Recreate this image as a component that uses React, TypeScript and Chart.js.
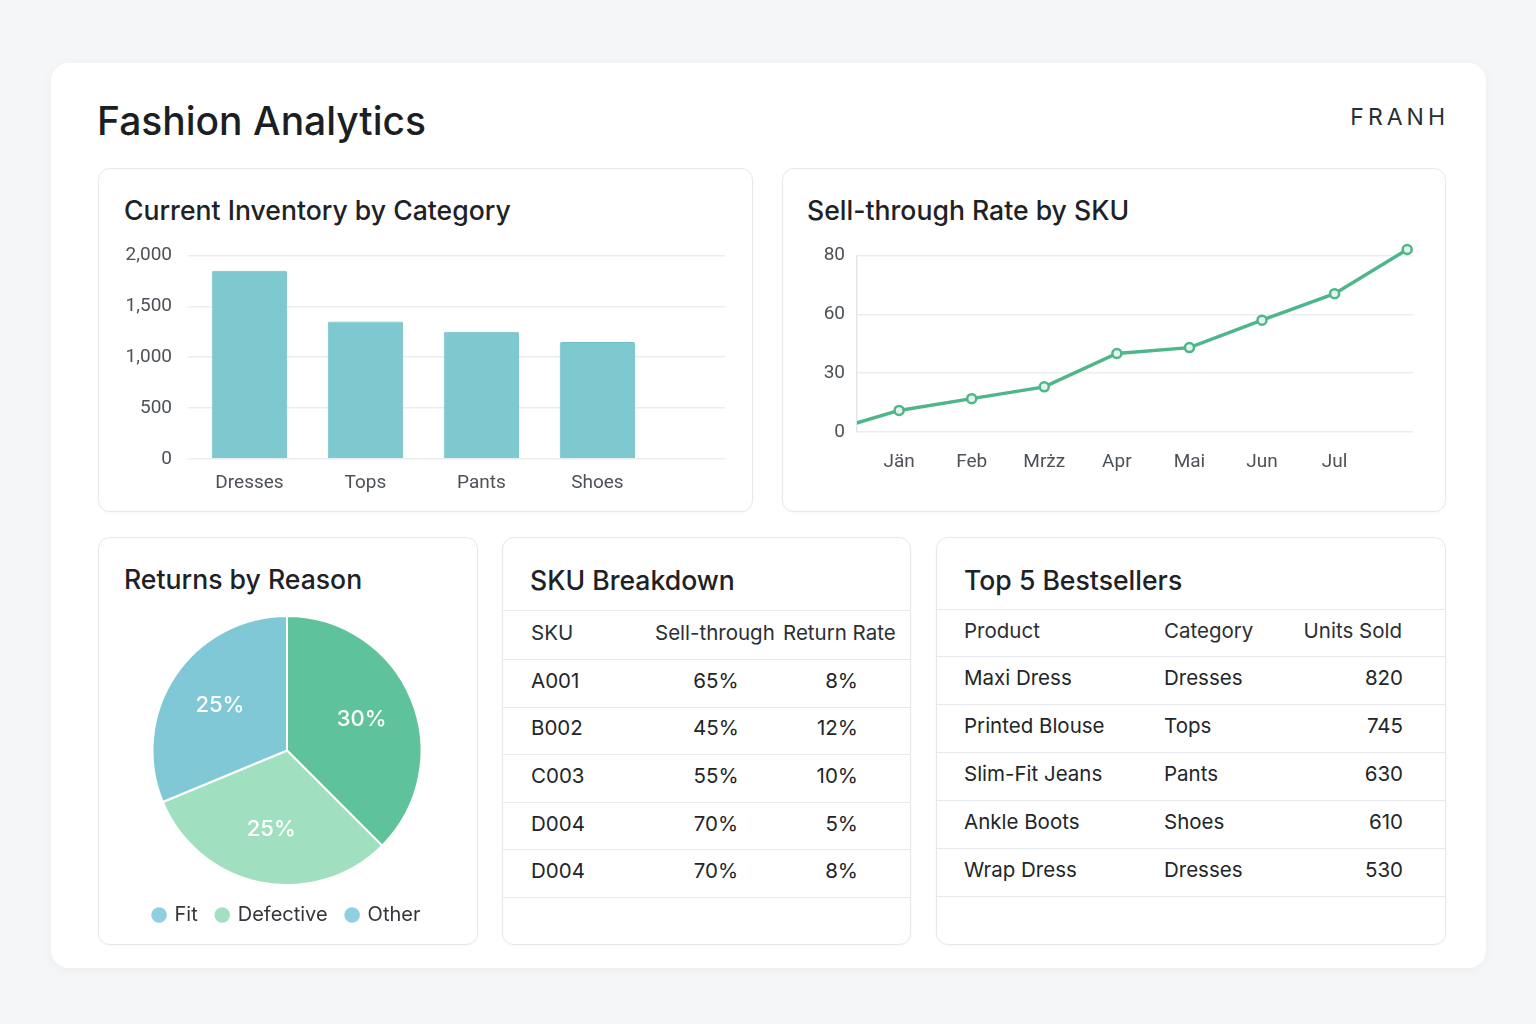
import React, { useEffect, useRef } from 'react';
import { Chart, registerables, LinearScale } from 'chart.js';

// ---- data ----
const INVENTORY_CATEGORIES = ['Dresses', 'Tops', 'Pants', 'Shoes'];
const INVENTORY_UNITS = [1850, 1350, 1250, 1150];
const INVENTORY_TICKS = [0, 500, 1000, 1500, 2000];

const MONTHS = ['Jän', 'Feb', 'Mrżz', 'Apr', 'Mai', 'Jun', 'Jul'];
// lead-in point before Jän, Jän..Jul, then one trailing point
const SELL_THROUGH = [0, 11, 17, 23, 40, 43, 57, 67, 82];
const RATE_TICKS = [0, 30, 60, 80];

const RETURN_REASONS = ['Other', 'Defective', 'Fit'];
const RETURN_SHARES = [30, 25, 25];
const LEGEND_ORDER = ['Fit', 'Defective', 'Other'];

const SKU_IDS = ['A001', 'B002', 'C003', 'D004', 'D004'];
const SKU_SELL_THROUGH = [65, 45, 55, 70, 70];
const SKU_RETURN_RATE = [8, 12, 10, 5, 8];

const BEST_PRODUCTS = ['Maxi Dress', 'Printed Blouse', 'Slim-Fit Jeans', 'Ankle Boots', 'Wrap Dress'];
const BEST_CATEGORIES = ['Dresses', 'Tops', 'Pants', 'Shoes', 'Dresses'];
const BEST_UNITS = [820, 745, 630, 610, 530];

// ---- a linear scale whose fixed ticks sit at equal spacing ----
class SteppedScale extends LinearScale {
  static id = 'stepped';
  static defaults = {};

  buildTicks() {
    const stops = (this.options as any).stops as number[];
    this.min = stops[0];
    this.max = stops[stops.length - 1];
    return stops.map((v) => ({ value: v }));
  }

  valueToSlot(value: number) {
    const s = (this.options as any).stops as number[];
    const n = s.length - 1;
    if (value <= s[0]) return (value - s[0]) / (s[1] - s[0]);
    if (value >= s[n]) return n + (value - s[n]) / (s[n] - s[n - 1]);
    for (let i = 0; i < n; i++) {
      if (value <= s[i + 1]) return i + (value - s[i]) / (s[i + 1] - s[i]);
    }
    return n;
  }

  getPixelForValue(value: number) {
    const s = (this.options as any).stops as number[];
    return this.getPixelForDecimal(this.valueToSlot(value) / (s.length - 1));
  }

  getValueForPixel(pixel: number) {
    const s = (this.options as any).stops as number[];
    const n = s.length - 1;
    const slot = this.getDecimalForPixel(pixel) * n;
    const i = Math.max(0, Math.min(n - 1, Math.floor(slot)));
    return s[i] + (slot - i) * (s[i + 1] - s[i]);
  }
}

Chart.register(...registerables, SteppedScale as any);

const TICK_FONT = { family: 'Roboto', size: 19 };
const TICK_COLOR = '#4d5258';
const GRID_COLOR = '#ebedef';
const TEXT_FONT = 'Inter, "Noto Sans", sans-serif';

function InventoryChart() {
  const ref = useRef<HTMLCanvasElement>(null);
  useEffect(() => {
    const chart = new Chart(ref.current!, {
      type: 'bar',
      data: {
        datasets: [
          {
            data: INVENTORY_UNITS.map((v, i) => ({ x: i, y: v })),
            backgroundColor: '#7ec8d0',
            borderColor: '#70bfc8',
            borderWidth: 1,
            borderRadius: 2,
            borderSkipped: 'bottom',
            categoryPercentage: 1,
            barPercentage: 0.65,
          },
        ],
      },
      options: {
        animation: false,
        responsive: true,
        maintainAspectRatio: false,
        layout: { padding: 0 },
        plugins: { legend: { display: false }, tooltip: { enabled: false } },
        scales: {
          x: {
            type: 'linear',
            offset: false,
            min: -0.53,
            max: 4.1,
            grid: { display: false, offset: false },
            border: { display: false },
            afterBuildTicks: (s: any) => {
              s.ticks = INVENTORY_CATEGORIES.map((_, i) => ({ value: i }));
            },
            afterFit: (s: any) => {
              s.height = 46;
            },
            ticks: {
              font: TICK_FONT,
              color: TICK_COLOR,
              padding: 5,
              callback: (v: any) => INVENTORY_CATEGORIES[v] ?? '',
            },
          },
          y: {
            min: 0,
            max: 2000,
            afterBuildTicks: (s: any) => {
              s.ticks = INVENTORY_TICKS.map((v) => ({ value: v }));
            },
            afterFit: (s: any) => {
              s.width = 78;
            },
            grid: { color: GRID_COLOR, lineWidth: 1.5, drawTicks: false },
            border: { display: false },
            ticks: {
              font: TICK_FONT,
              color: TICK_COLOR,
              padding: 16,
              callback: (v: any) => Number(v).toLocaleString('en-US'),
            },
          },
        },
      },
    } as any);
    return () => chart.destroy();
  }, []);
  return (
    <div style={{ position: 'absolute', left: 110, top: 228, width: 615, height: 277 }}>
      <canvas ref={ref} />
    </div>
  );
}

function SellThroughChart() {
  const ref = useRef<HTMLCanvasElement>(null);
  useEffect(() => {
    const chart = new Chart(ref.current!, {
      type: 'line',
      data: {
        datasets: [
          {
            data: SELL_THROUGH.map((v, i) => ({ x: i, y: v })),
            borderColor: '#4fb68b',
            borderWidth: 3.5,
            pointRadius: 4.5,
            pointBorderWidth: 2.5,
            pointBackgroundColor: '#e3f6ec',
            pointBorderColor: '#4fb68b',
            tension: 0,
            clip: { left: 0, top: false, right: false, bottom: false },
          },
        ],
      },
      options: {
        animation: false,
        responsive: true,
        maintainAspectRatio: false,
        layout: { padding: { top: 0, right: 7, left: 0, bottom: 0 } },
        plugins: { legend: { display: false }, tooltip: { enabled: false } },
        scales: {
          x: {
            type: 'linear',
            min: 0.42,
            max: 8.08,
            grid: { display: false },
            border: { display: false },
            afterBuildTicks: (s: any) => {
              s.ticks = MONTHS.map((_, i) => ({ value: i + 1 }));
            },
            afterFit: (s: any) => {
              s.height = 48;
            },
            ticks: {
              font: TICK_FONT,
              color: TICK_COLOR,
              padding: 11,
              callback: (v: any) => MONTHS[v - 1] ?? '',
            },
          },
          y: {
            type: 'stepped',
            stops: RATE_TICKS,
            afterFit: (s: any) => {
              s.width = 67;
            },
            grid: { color: GRID_COLOR, lineWidth: 1.5, drawTicks: false },
            border: { display: true, color: '#e3e5e8', width: 1.5 },
            ticks: {
              font: TICK_FONT,
              color: TICK_COLOR,
              padding: 12,
              callback: (v: any) => String(v),
            },
          },
        },
      },
    } as any);
    return () => chart.destroy();
  }, []);
  return (
    <div style={{ position: 'absolute', left: 790, top: 232, width: 630, height: 248 }}>
      <canvas ref={ref} />
    </div>
  );
}

const sliceLabels = {
  id: 'sliceLabels',
  afterDatasetsDraw(chart: any) {
    const ctx = chart.ctx;
    const meta = chart.getDatasetMeta(0);
    const values = chart.data.datasets[0].data as number[];
    ctx.save();
    ctx.font = `500 22px ${TEXT_FONT}`;
    ctx.fillStyle = '#ffffff';
    ctx.textAlign = 'center';
    ctx.textBaseline = 'middle';
    meta.data.forEach((arc: any, i: number) => {
      const p = arc.getProps(['x', 'y', 'startAngle', 'endAngle', 'outerRadius'], true);
      const mid = (p.startAngle + p.endAngle) / 2;
      const r = p.outerRadius * 0.6;
      ctx.fillText(`${values[i]}%`, p.x + Math.cos(mid) * r, p.y + Math.sin(mid) * r);
    });
    ctx.restore();
  },
};

function ReturnsChart() {
  const ref = useRef<HTMLCanvasElement>(null);
  useEffect(() => {
    const sliceColors = ['#5ec39b', '#a0dfc0', '#80c8d6'];
    const legendColors: Record<string, string> = {
      Fit: '#8ecfe0',
      Defective: '#a3e0c2',
      Other: '#90cfe2',
    };
    const chart = new Chart(ref.current!, {
      type: 'pie',
      data: {
        labels: RETURN_REASONS,
        datasets: [
          {
            data: RETURN_SHARES,
            backgroundColor: sliceColors,
            borderColor: '#ffffff',
            borderWidth: 2,
          },
        ],
      },
      options: {
        animation: false,
        responsive: true,
        maintainAspectRatio: false,
        layout: { padding: 0 },
        plugins: {
          tooltip: { enabled: false },
          legend: {
            position: 'bottom',
            labels: {
              usePointStyle: true,
              boxWidth: 11,
              boxHeight: 11,
              padding: 19,
              color: '#33373b',
              font: { family: 'Inter', size: 20 },
              generateLabels: () =>
                LEGEND_ORDER.map((name) => ({
                  text: name,
                  fillStyle: legendColors[name],
                  strokeStyle: legendColors[name],
                  lineWidth: 0,
                  pointStyle: 'circle',
                  hidden: false,
                  index: RETURN_REASONS.indexOf(name),
                  fontColor: '#33373b',
                })),
            },
          },
        },
      },
      plugins: [sliceLabels],
    } as any);
    return () => chart.destroy();
  }, []);
  return (
    <div style={{ position: 'absolute', left: 109, top: 615, width: 356, height: 320 }}>
      <canvas ref={ref} />
    </div>
  );
}

const panelStyle = (left: number, top: number, width: number, height: number): React.CSSProperties => ({
  position: 'absolute',
  left,
  top,
  width,
  height,
  boxSizing: 'border-box',
  background: '#ffffff',
  border: '1.5px solid #e6e8eb',
  borderRadius: 12,
  boxShadow: '0 1px 3px rgba(0,0,0,0.035)',
});

const titleStyle = (left: number, top: number): React.CSSProperties => ({
  position: 'absolute',
  left,
  top,
  fontFamily: TEXT_FONT,
  fontSize: 26.6,
  fontWeight: 500,
  lineHeight: '32px',
  color: '#1e2226',
  whiteSpace: 'nowrap',
});

const LINE = '1.5px solid #e7e9ec';
const cellText: React.CSSProperties = {
  position: 'absolute',
  fontFamily: TEXT_FONT,
  fontSize: 20.5,
  lineHeight: '24px',
  color: '#222629',
  whiteSpace: 'nowrap',
};

function Row({ top, height, children }: { top: number; height: number; children: React.ReactNode }) {
  return (
    <div style={{ position: 'absolute', left: 0, right: 0, top, height, borderBottom: LINE }}>
      <div style={{ position: 'absolute', left: 0, right: 0, top: height / 2 - 14, height: 24 }}>{children}</div>
    </div>
  );
}

function SkuTable() {
  // panel origin: (502, 537)
  const rows = SKU_IDS.map((id, i) => (
    <Row key={i} top={121 + i * 47.6} height={47.6}>
      <span style={{ ...cellText, left: 28 }}>{id}</span>
      <span style={{ ...cellText, left: 213, width: 0, display: 'flex', justifyContent: 'center' }}>
        {`${SKU_SELL_THROUGH[i]}%`}
      </span>
      <span style={{ ...cellText, right: 409 - 357, textAlign: 'right' }}>{`${SKU_RETURN_RATE[i]}%`}</span>
    </Row>
  ));
  return (
    <div style={panelStyle(502, 537, 409, 408)}>
      <div style={titleStyle(27, 26)}>SKU Breakdown</div>
      <div style={{ position: 'absolute', left: 0, right: 0, top: 72, borderTop: LINE }} />
      <Row top={73} height={48}>
        <span style={{ ...cellText, left: 28, color: '#2b2f33' }}>SKU</span>
        <span style={{ ...cellText, left: 152, color: '#2b2f33' }}>Sell-through</span>
        <span style={{ ...cellText, left: 280, color: '#2b2f33' }}>Return Rate</span>
      </Row>
      {rows}
    </div>
  );
}

function BestsellerTable() {
  // panel origin: (936, 537)
  const rows = BEST_PRODUCTS.map((name, i) => (
    <Row key={i} top={118 + i * 48} height={48}>
      <span style={{ ...cellText, left: 27 }}>{name}</span>
      <span style={{ ...cellText, left: 227 }}>{BEST_CATEGORIES[i]}</span>
      <span style={{ ...cellText, right: 42, textAlign: 'right' }}>{BEST_UNITS[i]}</span>
    </Row>
  ));
  return (
    <div style={panelStyle(936, 537, 510, 408)}>
      <div style={titleStyle(27, 26)}>Top 5 Bestsellers</div>
      <div style={{ position: 'absolute', left: 0, right: 0, top: 71, borderTop: LINE }} />
      <Row top={72} height={46}>
        <span style={{ ...cellText, left: 27, color: '#2b2f33' }}>Product</span>
        <span style={{ ...cellText, left: 227, color: '#2b2f33' }}>Category</span>
        <span style={{ ...cellText, right: 43, textAlign: 'right', color: '#2b2f33' }}>Units Sold</span>
      </Row>
      {rows}
    </div>
  );
}

export default function App() {
  return (
    <div
      style={{
        position: 'absolute',
        left: 0,
        top: 0,
        width: 1536,
        height: 1024,
        overflow: 'hidden',
        background: '#f5f6f7',
        fontFamily: TEXT_FONT,
      }}
    >
      <div
        style={{
          position: 'absolute',
          left: 51,
          top: 63,
          width: 1435,
          height: 905,
          background: '#ffffff',
          borderRadius: 18,
          boxShadow: '0 2px 12px rgba(0,0,0,0.04)',
        }}
      />
      <div
        style={{
          position: 'absolute',
          left: 97,
          top: 99,
          fontSize: 39,
          fontWeight: 500,
          lineHeight: '44px',
          color: '#1b1f23',
          whiteSpace: 'nowrap',
        }}
      >
        Fashion Analytics
      </div>
      <div
        style={{
          position: 'absolute',
          right: 1536 - 1449,
          top: 103,
          fontSize: 23,
          fontWeight: 400,
          letterSpacing: 4,
          lineHeight: '28px',
          color: '#2a2e32',
        }}
      >
        FRANH
      </div>

      <div style={panelStyle(98, 168, 655, 344)}>
        <div style={titleStyle(25, 25)}>Current Inventory by Category</div>
      </div>
      <div style={panelStyle(782, 168, 664, 344)}>
        <div style={titleStyle(24, 25)}>Sell-through Rate by SKU</div>
      </div>
      <div style={panelStyle(98, 537, 380, 408)}>
        <div style={titleStyle(25, 25)}>Returns by Reason</div>
      </div>
      <SkuTable />
      <BestsellerTable />

      <InventoryChart />
      <SellThroughChart />
      <ReturnsChart />
    </div>
  );
}
